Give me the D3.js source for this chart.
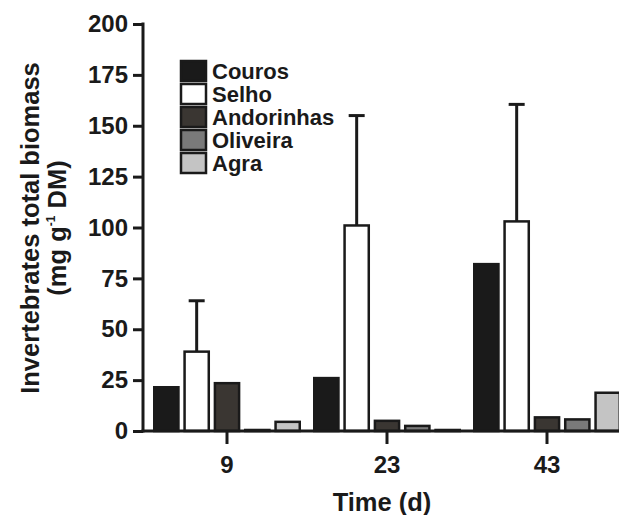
<!DOCTYPE html>
<html>
<head>
<meta charset="utf-8">
<script src="https://cdn.jsdelivr.net/npm/d3@7"></script>
<style>
  body { margin: 0; background: #fff; }
  svg text { font-family: "Liberation Sans", Arial, sans-serif; font-weight: bold; fill: #1a1a1a; }
</style>
</head>
<body>
<svg id="svg" width="619" height="515"></svg>
<script>
// データ
const days = ["9", "23", "43"];
const sites = ["Couros", "Selho", "Andorinhas", "Oliveira", "Agra"];
const colors = ["#1a1a1a", "#ffffff", "#3a3632", "#7a7a7a", "#c4c4c4"];
// 各日ごとの値（サイト順）
const means = [
  [21.5, 39, 23.5, 0.5, 4.5],
  [26, 101, 5, 2.5, 0.5],
  [82, 103, 6.7, 5.7, 18.8]
];
// Selhoのみ誤差棒あり
const errTop = [
  [null, 64, null, null, null],
  [null, 155, null, null, null],
  [null, 160.5, null, null, null]
];
const yTicks = [0, 25, 50, 75, 100, 125, 150, 175, 200];

const svg = d3.select("#svg");
const axisLeft = 143;
const axisY = 431;

const y = d3.scaleLinear().domain([0, 200]).range([axisY, 24]);
const x0 = d3.scaleBand().domain(days).range([147, 627]);
const x1 = d3.scaleBand().domain(sites).range([6, 154]).paddingInner(0.12);

// 棒の描画
const groups = svg.selectAll(".day")
  .data(days)
  .enter()
  .append("g")
  .attr("class", "day")
  .attr("transform", d => `translate(${x0(d)},0)`);

groups.each(function (day, i) {
  const g = d3.select(this);
  const rows = sites.map((s, j) => ({ site: s, v: means[i][j], e: errTop[i][j], c: colors[j] }));

  //誤差棒
  rows.filter(r => r.e != null).forEach(r => {
    const cx = x1(r.site) + x1.bandwidth() / 2;
    g.append("line")
      .attr("x1", cx).attr("x2", cx)
      .attr("y1", y(r.v)).attr("y2", y(r.e))
      .attr("stroke", "#1a1a1a").attr("stroke-width", 3);
    g.append("line")
      .attr("x1", cx - 8).attr("x2", cx + 8)
      .attr("y1", y(r.e)).attr("y2", y(r.e))
      .attr("stroke", "#1a1a1a").attr("stroke-width", 3);
  });

  g.selectAll("rect")
    .data(rows)
    .enter()
    .append("rect")
    .attr("x", r => x1(r.site) + 1.25)
    .attr("width", x1.bandwidth() - 2.5)
    .attr("y", r => y(r.v))
    .attr("height", r => Math.max(0, axisY - y(r.v)))
    .attr("fill", r => r.c)
    .attr("stroke", "#1a1a1a")
    .attr("stroke-width", 2.5);
});

// Y軸
const yAxis = svg.append("g")
  .attr("transform", `translate(${axisLeft},0)`)
  .call(d3.axisLeft(y).tickValues(yTicks).tickSize(10).tickPadding(5));
yAxis.select(".domain").remove();
yAxis.append("line")
  .attr("x1", 0).attr("x2", 0)
  .attr("y1", y(200) - 1.5).attr("y2", axisY + 1.5)
  .attr("stroke", "#1a1a1a").attr("stroke-width", 3);
yAxis.selectAll(".tick line").attr("stroke", "#1a1a1a").attr("stroke-width", 3);
yAxis.selectAll(".tick text")
  .attr("font-size", 24).attr("font-family", "Liberation Sans, Arial, sans-serif")
  .attr("font-weight", "bold").attr("fill", "#1a1a1a");

// X軸
const xAxis = svg.append("g")
  .attr("transform", `translate(0,${axisY})`)
  .call(d3.axisBottom(x0).tickSize(13).tickPadding(12));
xAxis.select(".domain").remove();
xAxis.append("line")
  .attr("x1", axisLeft - 1.5).attr("x2", 619)
  .attr("y1", 0).attr("y2", 0)
  .attr("stroke", "#1a1a1a").attr("stroke-width", 3);
xAxis.selectAll(".tick line").attr("stroke", "#1a1a1a").attr("stroke-width", 3);
xAxis.selectAll(".tick text")
  .attr("font-size", 24).attr("font-family", "Liberation Sans, Arial, sans-serif")
  .attr("font-weight", "bold").attr("fill", "#1a1a1a");

// 軸タイトル
svg.append("text")
  .attr("x", 382).attr("y", 511)
  .attr("text-anchor", "middle")
  .attr("font-size", 25.5)
  .text("Time (d)");

const yTitle = svg.append("g").attr("transform", "translate(0,228) rotate(-90)");
yTitle.append("text")
  .attr("x", 0).attr("y", 39)
  .attr("text-anchor", "middle")
  .attr("font-size", 25.5)
  .text("Invertebrates total biomass");
const t2 = yTitle.append("text")
  .attr("x", 0).attr("y", 66)
  .attr("text-anchor", "middle")
  .attr("font-size", 25.5);
t2.append("tspan").text("(mg g");
t2.append("tspan").attr("font-size", 12).attr("dy", -11).text("-1");
t2.append("tspan").attr("dy", 11).text(" DM)");

// 凡例
const legend = svg.append("g").attr("transform", "translate(180,60)");
sites.forEach((s, i) => {
  const row = legend.append("g").attr("transform", `translate(0,${i * 23})`);
  row.append("rect")
    .attr("x", 1).attr("y", 1)
    .attr("width", 25).attr("height", 20)
    .attr("fill", colors[i])
    .attr("stroke", "#1a1a1a").attr("stroke-width", 2.5);
  row.append("text")
    .attr("x", 32).attr("y", 19)
    .attr("font-size", 22)
    .text(s);
});
</script>
</body>
</html>
